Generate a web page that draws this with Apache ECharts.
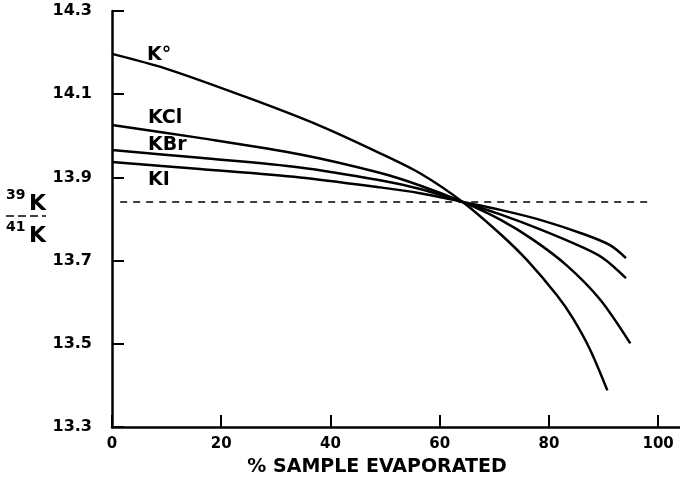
<!DOCTYPE html>
<html>
<head>
<meta charset="utf-8">
<script src="https://cdn.jsdelivr.net/npm/echarts@6/dist/echarts.min.js"></script>
<style>
html, body { margin: 0; padding: 0; background: #fff; }
#chart { width: 680px; height: 492px; }
</style>
</head>
<body>
<div id="chart"></div>
<script>
// 数据：横轴为蒸发百分比，纵轴为 39K/41K
var koX = [0, 10, 25.6, 38.1, 49.1, 56.4, 64.2, 71.1, 76, 81.5, 84.4, 87.5, 90.7];
var koY = [14.197, 14.161, 14.088, 14.024, 13.958, 13.910, 13.841, 13.764, 13.701, 13.616, 13.561, 13.487, 13.388];

var kclX = [0, 16, 34.5, 49, 56.5, 64.2, 71, 77, 83.3, 89.4, 94.9];
var kclY = [14.026, 13.995, 13.955, 13.911, 13.880, 13.841, 13.799, 13.751, 13.688, 13.606, 13.501];

var kbrX = [0, 16.1, 34.4, 49.1, 56.4, 64.2, 71.1, 78.4, 86.3, 90, 94.1];
var kbrY = [13.966, 13.947, 13.924, 13.893, 13.872, 13.841, 13.811, 13.775, 13.731, 13.705, 13.658];

var kiX = [0, 16.1, 34.4, 49.1, 56.4, 64.2, 71.1, 78.4, 86.3, 91.2, 94.1];
var kiY = [13.937, 13.920, 13.900, 13.876, 13.862, 13.841, 13.822, 13.798, 13.764, 13.737, 13.706];

var refX = [1.5, 98];
var refY = [13.841, 13.841];

var xTicks = [0, 20, 40, 60, 80, 100];

function pairs(xs, ys) {
	return xs.map(function (x, i) { return [x, ys[i]]; });
}

var font = 'DejaVu Sans';

function curve(name, xs, ys) {
	return {
		name: name,
		type: 'line',
		smooth: 0.3,
		symbol: 'none',
		data: pairs(xs, ys),
		lineStyle: { color: '#000', width: 2.5 }
	};
}

var myChart = echarts.init(document.getElementById('chart'));
var option = {
	animation: false,
	backgroundColor: '#fff',
	grid: {
		left: 112,
		right: 0,
		top: 11,
		bottom: 65
	},
	xAxis: {
		type: 'value',
		min: 0,
		max: 104,
		splitLine: { show: false },
		axisLine: { lineStyle: { color: '#000', width: 2.5 } },
		axisTick: {
			inside: true,
			length: 12,
			customValues: xTicks,
			lineStyle: { color: '#000', width: 2 }
		},
		axisLabel: {
			customValues: xTicks,
			margin: 10,
			color: '#000',
			fontFamily: font,
			fontWeight: 'bold',
			fontSize: 15
		}
	},
	yAxis: {
		type: 'value',
		min: 13.3,
		max: 14.3,
		interval: 0.2,
		splitLine: { show: false },
		axisLine: { lineStyle: { color: '#000', width: 2.5 } },
		axisTick: {
			inside: true,
			length: 12,
			lineStyle: { color: '#000', width: 2 }
		},
		axisLabel: {
			margin: 20,
			color: '#000',
			fontFamily: font,
			fontWeight: 'bold',
			fontSize: 16,
			formatter: function (v) { return v.toFixed(1); }
		}
	},
	series: [
		curve('K°', koX, koY),
		curve('KCl', kclX, kclY),
		curve('KBr', kbrX, kbrY),
		curve('KI', kiX, kiY),
		{ name: 'ref', type: 'line', symbol: 'none', data: pairs(refX, refY),
			lineStyle: { color: '#000', width: 1.5, type: [7, 6] } }
	],
	graphic: [
		{ type: 'text', left: 147, top: 46, style: { text: 'K°', font: 'bold 19px ' + font, fill: '#000' } },
		{ type: 'text', left: 148, top: 109, style: { text: 'KCl', font: 'bold 19px ' + font, fill: '#000' } },
		{ type: 'text', left: 148, top: 136, style: { text: 'KBr', font: 'bold 19px ' + font, fill: '#000' } },
		{ type: 'text', left: 148, top: 171, style: { text: 'KI', font: 'bold 19px ' + font, fill: '#000' } },
		{ type: 'text', x: 377, y: 467, style: { text: '% SAMPLE EVAPORATED', font: 'bold 19px ' + font, fill: '#000',
			align: 'center', verticalAlign: 'middle' } },
		{ type: 'text', left: 6, top: 188, style: { text: '39', font: 'bold 14px ' + font, fill: '#000' } },
		{ type: 'text', left: 29, top: 193, style: { text: 'K', font: 'bold 22px ' + font, fill: '#000' } },
		{ type: 'line', shape: { x1: 6, y1: 216, x2: 46, y2: 216 },
			style: { stroke: '#000', lineWidth: 1.5, lineDash: [8, 4] } },
		{ type: 'text', left: 6, top: 220, style: { text: '41', font: 'bold 14px ' + font, fill: '#000' } },
		{ type: 'text', left: 29, top: 225, style: { text: 'K', font: 'bold 22px ' + font, fill: '#000' } }
	]
};
myChart.setOption(option);
window.onresize = myChart.resize;
</script>
</body>
</html>
